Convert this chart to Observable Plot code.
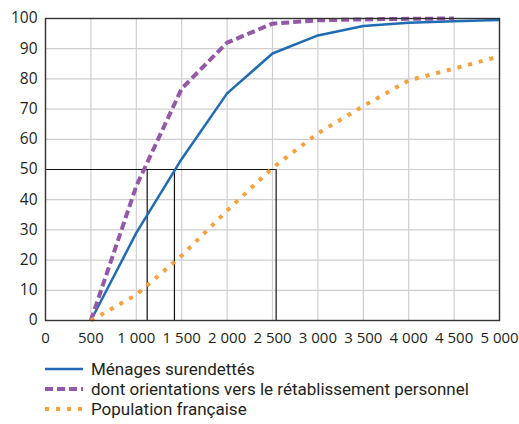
<!DOCTYPE html>
<html><head><meta charset="utf-8">
<script src="https://cdn.jsdelivr.net/npm/d3@7"></script>
<script src="https://cdn.jsdelivr.net/npm/@observablehq/plot@0.6"></script>
<style>
body{margin:0;background:#fff;font-family:"Open Sans",sans-serif;}
#legend{margin-left:45px;margin-top:9px;font-family:Roboto,sans-serif;font-size:17px;line-height:20px;color:#231f20;}
.li{display:flex;align-items:center;height:20px;}
.li span{line-height:20px;}
.li svg{margin-right:8px;}
</style></head><body>
<div id="chart"></div>
<div id="legend"></div>
<script>
const revenus = [500, 1000, 1500, 2000, 2500, 3000, 3500, 4000, 4500, 5000];
const menages = [0, 29, 53.5, 75.2, 88.4, 94.4, 97.5, 98.6, 99.1, 99.5];
const retablissement = [0, 44.5, 76.8, 92, 98.3, 99.4, 99.7, 99.9, 100, null];
const population = [0, 8.5, 21.5, 36.4, 50.5, 62, 71, 79.5, 83.4, 87.5];
const refX = [1120, 1420, 2540];
const refY = 50;
const xTicks = [0, 500, 1000, 1500, 2000, 2500, 3000, 3500, 4000, 4500, 5000];
const yTicks = [0, 10, 20, 30, 40, 50, 60, 70, 80, 90, 100];

const series = [
  {name: "Ménages surendettés", values: menages, color: "#1f6cb4", width: 2.5, dash: null},
  {name: "dont orientations vers le rétablissement personnel", values: retablissement, color: "#9558a8", width: 4, dash: "8,4"},
  {name: "Population française", values: population, color: "#f7a03c", width: 4, dash: "4,7"}
];
const rows = [];
series.forEach(s => revenus.forEach((r, i) => {
  if (s.values[i] != null) rows.push({s: s.name, x: r, y: s.values[i]});
}));

const fmt = d => d3.format(",")(d).replace(",", " ");

const chart = Plot.plot({
  width: 519, height: 350,
  marginLeft: 45, marginRight: 20, marginTop: 18, marginBottom: 30,
  style: {fontFamily: "Open Sans, sans-serif", fontSize: "15px", color: "#231f20", background: "#fff"},
  x: {domain: [0, 5000], label: null},
  y: {domain: [0, 100], label: null},
  marks: [
    Plot.gridX(xTicks, {stroke: "#cfcfcf", strokeOpacity: 1, strokeWidth: 1.2}),
    Plot.gridY(yTicks, {stroke: "#cfcfcf", strokeOpacity: 1, strokeWidth: 1.2}),
    Plot.axisX({ticks: xTicks, tickFormat: fmt, tickSize: 0, tickPadding: 12, fontSize: 15, fill: "#231f20"}),
    Plot.axisY({ticks: yTicks, tickSize: 0, tickPadding: 8, fontSize: 15.5, fill: "#231f20"}),
    Plot.ruleY([refY], {x1: 0, x2: refX[refX.length - 1], stroke: "#111", strokeWidth: 1.2}),
    Plot.ruleX(refX, {y1: 0, y2: refY, stroke: "#111", strokeWidth: 1.2}),
    ...series.map(s => Plot.line(rows.filter(r => r.s === s.name), {
      x: "x", y: "y", stroke: s.color, strokeWidth: s.width,
      strokeDasharray: s.dash, strokeLinecap: "butt", strokeLinejoin: "round"
    })),
    Plot.frame({stroke: "#333", strokeWidth: 1.4})
  ]
});
document.getElementById("chart").appendChild(chart);

const lg = document.getElementById("legend");
series.forEach(s => {
  const d = document.createElement("div");
  d.className = "li";
  d.innerHTML = `<svg width="38" height="8"><line x1="0" y1="4" x2="38" y2="4" stroke="${s.color}" stroke-width="${s.width}" ${s.dash ? `stroke-dasharray="${s.dash}"` : ""}/></svg><span>${s.name}</span>`;
  lg.appendChild(d);
});
</script>
</body></html>
